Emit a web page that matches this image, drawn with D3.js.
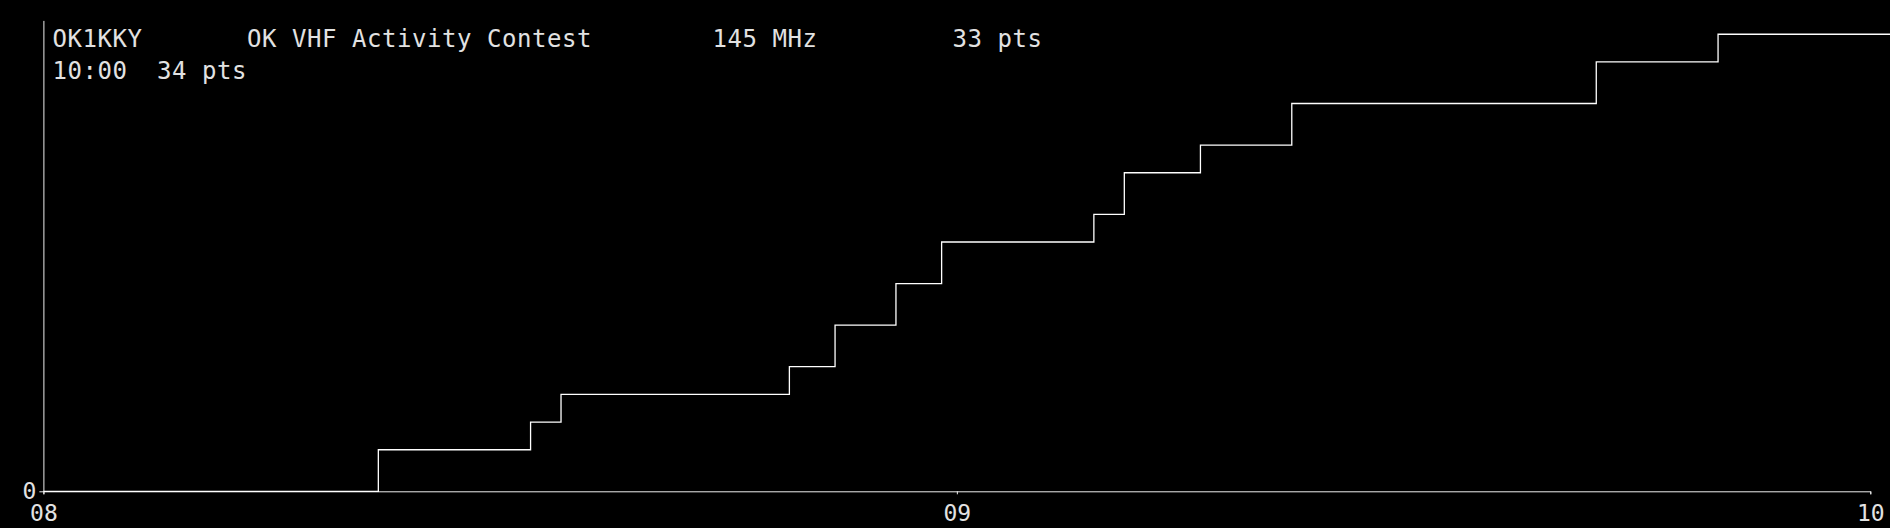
<!DOCTYPE html>
<html>
<head>
<meta charset="utf-8">
<script src="https://cdn.jsdelivr.net/npm/d3@7"></script>
<style>
  html, body { margin: 0; padding: 0; background: #000; overflow: hidden; }
  svg { display: block; }
  text { font-family: "DejaVu Sans Mono", monospace; fill: #e2e2e2; }
</style>
</head>
<body>
<svg id="chart"></svg>
<script>
// contest log, cumulative score after each QSO
const qsoTimes = ['08:00', '08:22', '08:32', '08:34', '08:49', '08:52', '08:56', '08:59',
                  '09:09', '09:11', '09:16', '09:22', '09:42', '09:50', '10:03'];
const scoreValues = [0, 3, 5, 7, 9, 12, 15, 18, 20, 23, 25, 28, 31, 33, 33];
const xTickLabels = ['08', '09', '10'];
const yTickLabels = [0];
const headerItems = ['OK1KKY', 'OK VHF Activity Contest', '145 MHz', '33 pts'];
const statusItems = ['10:00', '34 pts'];
const yMax = 34;

const width = 1890, height = 528;
const margin = { top: 20.4, right: 19.7, bottom: 36.7, left: 43.4 };

const parseTime = d3.timeParse('%H:%M');
const data = qsoTimes.map((t, i) => ({ t: parseTime(t), v: scoreValues[i] }));

const svg = d3.select('#chart').attr('width', width).attr('height', height);

const x = d3.scaleTime()
    .domain([parseTime('08:00'), parseTime('10:00')])
    .range([margin.left, width - margin.right]);

const y = d3.scaleLinear()
    .domain([0, yMax])
    .range([height - margin.bottom, margin.top]);

const xAxis = d3.axisBottom(x)
    .tickValues(xTickLabels.map(h => parseTime(h + ':00')))
    .tickFormat(d3.timeFormat('%H'))
    .tickSize(3)
    .tickPadding(10);

const yAxis = d3.axisLeft(y)
    .tickValues(yTickLabels)
    .tickSizeInner(4)
    .tickSizeOuter(0)
    .tickPadding(3);

const gx = svg.append('g')
    .attr('transform', `translate(0,${height - margin.bottom})`)
    .call(xAxis);

const gy = svg.append('g')
    .attr('transform', `translate(${margin.left},0)`)
    .call(yAxis);

[gx, gy].forEach(g => {
    g.select('.domain').attr('stroke', '#eee');
    g.selectAll('.tick line').attr('stroke', '#eee');
    g.selectAll('.tick text')
        .attr('fill', '#e2e2e2')
        .style('font-family', '"DejaVu Sans Mono", monospace')
        .style('font-size', '23px');
});

const line = d3.line()
    .x(d => x(d.t))
    .y(d => y(d.v))
    .curve(d3.curveStepAfter);

svg.append('path')
    .datum(data)
    .attr('fill', 'none')
    .attr('stroke', '#fff')
    .attr('stroke-width', 1.3)
    .attr('d', line);

// header lines
const headerX = [52.5, 247, 712.5, 952.5];
svg.append('g').selectAll('text')
    .data(headerItems)
    .join('text')
    .attr('x', (d, i) => headerX[i])
    .attr('y', 46.5)
    .style('font-size', '24px')
    .style('letter-spacing', '0.55px')
    .text(d => d);

const statusX = [52.5, 157];
svg.append('g').selectAll('text')
    .data(statusItems)
    .join('text')
    .attr('x', (d, i) => statusX[i])
    .attr('y', 79)
    .style('font-size', '24px')
    .style('letter-spacing', '0.55px')
    .text(d => d);
</script>
</body>
</html>
